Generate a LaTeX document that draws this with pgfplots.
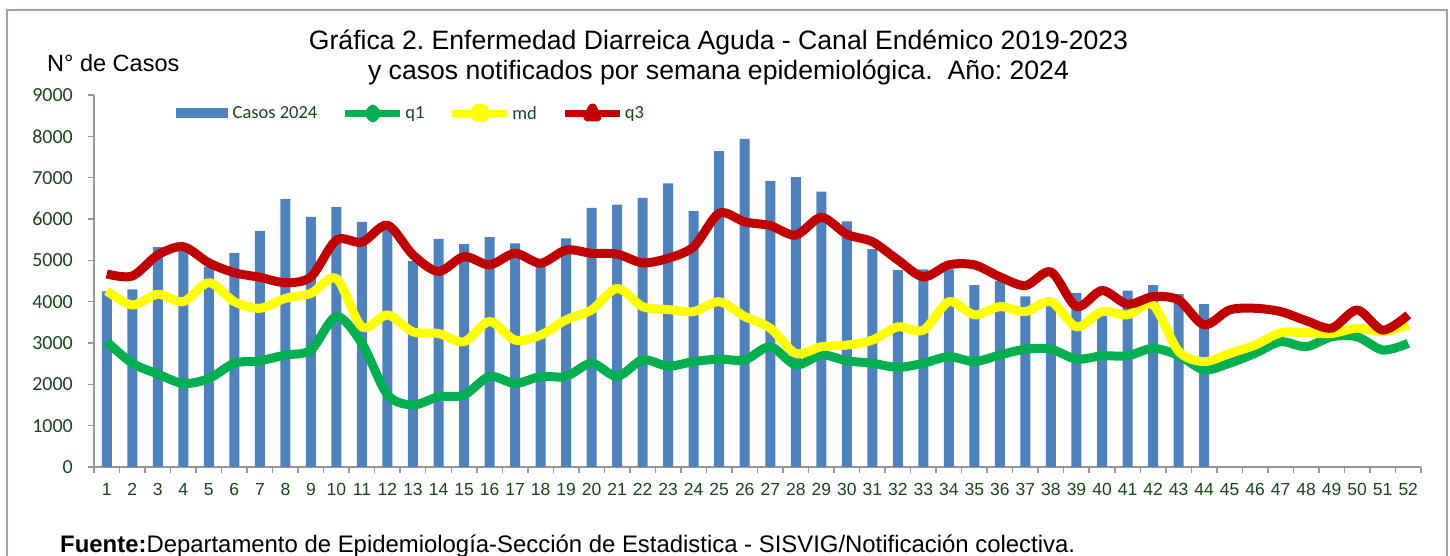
\documentclass[border=0pt]{standalone}
\usepackage{fontspec}
\setmainfont{Liberation Sans}
\newfontfamily\calibri{Carlito}
\usepackage{pgfplots}
\usepackage{pgfplotstable}
\pgfplotsset{compat=1.18}
\frenchspacing

\definecolor{barblue}{HTML}{4F81BD}
\definecolor{qgreen}{HTML}{00B050}
\definecolor{qyellow}{HTML}{FFFF00}
\definecolor{qred}{HTML}{C00000}
\definecolor{tickgreen}{RGB}{25,70,25}
\definecolor{axisgray}{RGB}{150,150,150}
\definecolor{framecol}{RGB}{160,160,195}

% semana, casos 2024, q1, md (mediana), q3
\pgfplotstableread{
w  casos q1   md   q3
1  4250  3030 4260 4670
2  4300  2510 3920 4620
3  5320  2250 4180 5130
4  5250  2020 4000 5330
5  4850  2140 4460 4940
6  5180  2510 4000 4700
7  5710  2570 3840 4590
8  6480  2710 4080 4460
9  6050  2830 4200 4600
10 6290  3640 4560 5490
11 5930  2990 3390 5440
12 5800  1750 3680 5850
13 4980  1500 3270 5130
14 5520  1700 3230 4730
15 5390  1740 3030 5090
16 5560  2190 3520 4890
17 5410  2020 3070 5170
18 4950  2190 3190 4930
19 5530  2190 3560 5250
20 6270  2510 3800 5170
21 6350  2190 4320 5150
22 6510  2590 3880 4940
23 6860  2440 3810 5050
24 6190  2550 3760 5330
25 7640  2610 4000 6140
26 7940  2590 3640 5930
27 6920  2910 3360 5840
28 7010  2470 2750 5610
29 6660  2710 2910 6040
30 5940  2570 2950 5630
31 5270  2510 3070 5450
32 4760  2410 3390 5010
33 4780  2510 3310 4600
34 4780  2670 4000 4890
35 4400  2550 3680 4890
36 4500  2710 3880 4600
37 4130  2850 3760 4390
38 4000  2850 4000 4720
39 4210  2610 3390 3880
40 3750  2690 3760 4270
41 4270  2690 3680 3940
42 4400  2870 3920 4120
43 4180  2700 2800 4040
44 3940  2350 2550 3440
45 nan   2510 2750 3800
46 nan   2750 2950 3840
47 nan   3030 3250 3760
48 nan   2910 3250 3540
49 nan   3150 3230 3360
50 nan   3150 3360 3800
51 nan   2830 3270 3310
52 nan   2990 3440 3680
}\datatab

\begin{document}
\begin{tikzpicture}[x=1pt,y=1pt]
\useasboundingbox (0,0) rectangle (1450,556);
\draw[framecol, line width=2pt] (7,-30) rectangle (1447,546);

\begin{axis}[
  at={(94pt,89pt)}, anchor=south west,
  scale only axis, width=1327pt, height=372pt,
  xmin=0.5, xmax=52.5, ymin=0, ymax=9000,
  axis x line*=bottom, axis y line*=left,
  axis line style={axisgray, line width=2pt},
  tick align=outside, major tick length=6pt,
  tick style={axisgray, line width=1.5pt},
  xtick={0.5,1.5,...,52.5},
  x tick label as interval,
  xticklabels={1,2,3,4,5,6,7,8,9,10,11,12,13,14,15,16,17,18,19,20,21,22,23,24,25,26,
    27,28,29,30,31,32,33,34,35,36,37,38,39,40,41,42,43,44,45,46,47,48,49,50,51,52},
  xticklabel style={font=\fontsize{17.5}{20}\selectfont, text=tickgreen, inner sep=0pt, yshift=-10pt},
  ytick={0,1000,...,9000},
  yticklabel style={font=\calibri\fontsize{20}{24}\selectfont, text=tickgreen, inner sep=0pt, xshift=-15pt},
  scaled y ticks=false,
  /pgf/number format/1000 sep={},
  /pgf/number format/assume math mode=true,
  clip=false,
  legend columns=4,
  legend style={at={(0.0618,0.9516)}, anchor=west, draw=none, fill=none,
    inner sep=0pt, font=\calibri\fontsize{18.5}{22}\selectfont,
    text=tickgreen, column sep=0pt,
    /tikz/every even column/.append style={column sep=23pt},
    nodes={inner sep=1.5pt, text=tickgreen}},
]
\addplot[ybar, bar width=10pt, fill=barblue, draw=none,
  legend image code/.code={\fill[barblue] (0pt,-5pt) rectangle (52pt,5pt);}]
  table[x=w, y=casos] {\datatab};
\addlegendentry{\hspace{3pt}Casos 2024}

\addplot[smooth, qgreen, line width=9pt, line cap=butt, line join=round,
  legend image code/.code={\draw[qgreen, line width=7pt, line cap=butt] (0pt,0pt) -- (55pt,0pt);
    \fill[qgreen] (27.5pt,4.5pt) -- (31.5pt,0pt) -- (27.5pt,-4.5pt) -- (23.5pt,0pt) -- cycle;}]
  table[x=w, y=q1] {\datatab};
\addlegendentry{q1}

\addplot[smooth, qyellow, line width=9pt, line cap=butt, line join=round,
  legend image code/.code={\draw[qyellow, line width=7pt, line cap=butt] (0pt,0pt) -- (55pt,0pt);
    \fill[qyellow] (24pt,-4.5pt) rectangle (31pt,4.5pt);}]
  table[x=w, y=md] {\datatab};
\addlegendentry{md}

\addplot[smooth, qred, line width=9pt, line cap=butt, line join=round,
  legend image code/.code={\draw[qred, line width=7pt, line cap=butt] (0pt,0pt) -- (55pt,0pt);
    \fill[qred] (27.5pt,5.5pt) -- (32pt,-3.5pt) -- (23pt,-3.5pt) -- cycle;}]
  table[x=w, y=q3] {\datatab};
\addlegendentry{q3}
\end{axis}

\node[anchor=base, font=\fontsize{26.6}{31}\selectfont] at (718.5,506.5)
  {Gráfica 2. Enfermedad Diarreica Aguda - Canal Endémico 2019-2023};
\node[anchor=base, font=\fontsize{26.6}{31}\selectfont] at (718.5,476)
  {y casos notificados por semana epidemiológica.\ \ Año: 2024};
\node[anchor=base west, font=\fontsize{23.5}{28}\selectfont, inner sep=0pt] at (47,484.3)
  {N° de Casos};
\node[anchor=base west, font=\fontsize{23.9}{28}\selectfont, inner sep=0pt] at (60,3)
  {\textbf{Fuente:}Departamento de Epidemiología-Sección de Estadistica - SISVIG/Notificación colectiva.};
\end{tikzpicture}
\end{document}
